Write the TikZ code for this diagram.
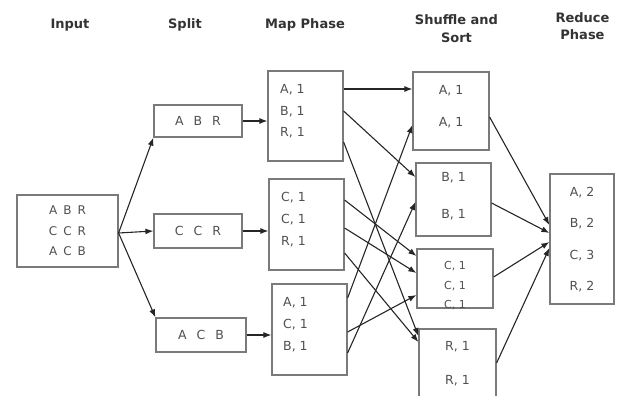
\documentclass[tikz,border=0pt]{standalone}
\usepackage{fontspec}
\setmainfont{DejaVu Sans}
\usetikzlibrary{arrows.meta}
\definecolor{boxgray}{HTML}{7A7A7A}
\definecolor{txtgray}{HTML}{505050}
\definecolor{linegray}{HTML}{262626}

\begin{document}
\begin{tikzpicture}[x=1pt,y=-1pt,
    box/.style={draw=boxgray, line width=1.2pt, inner sep=0pt},
    txt/.style={text=txtgray, font=\fontsize{12.5}{#1}\selectfont, align=left, inner sep=0pt},
    txt/.default=21.5,
    ttl/.style={text=black!80, font=\bfseries\fontsize{13}{#1}\selectfont, align=center, inner sep=0pt},
    ttl/.default=18,
    arr/.style={draw=linegray, line width=1.1pt, -{Latex[length=8pt,width=6pt]}}]
        \useasboundingbox (0,0) rectangle (622,396);

        % Titres
        \node[ttl, anchor=base] (t-in) at (70,28.5) {Input};
        \node[ttl, anchor=base] (t-split) at (185,28.5) {Split};
        \node[ttl, anchor=base] (t-map) at (305,28.5) {Map Phase};
        \node[ttl=18] (t-shuf) at (456.5,29) {Shuffle and\\Sort};
        \node[ttl=16.6] (t-red) at (582.5,26) {Reduce\\Phase};

        % Entree et decoupage
        \node[box, txt=20.5, align=center, minimum width=101pt, minimum height=72pt,
              font=\fontsize{12}{20.5}\selectfont] (in) at (67.5,231)
            {A\hspace{6pt}B\hspace{6pt}R\\C\hspace{6pt}C\hspace{6pt}R\\A\hspace{6pt}C\hspace{6pt}B};
        \node[box, txt, minimum width=88pt, minimum height=32pt] (s1) at (198,121) {A\hspace{10pt}B\hspace{10pt}R};
        \node[box, txt, minimum width=88pt, minimum height=34pt] (s2) at (198,231) {C\hspace{10pt}C\hspace{10pt}R};
        \node[box, txt, minimum width=90pt, minimum height=34pt] (s3) at (201,335) {A\hspace{10pt}C\hspace{10pt}B};

        % Map
        \node[box, minimum width=75pt, minimum height=90pt] (m1) at (305.5,116) {};
        \node[box, minimum width=75pt, minimum height=91pt] (m2) at (306.5,224.5) {};
        \node[box, minimum width=75pt, minimum height=91pt] (m3) at (309.5,329.5) {};
        \node[txt=21.5, anchor=west] (m1t) at (280,111.5) {A, 1\\B, 1\\R, 1};
        \node[txt=22, anchor=west] (m2t) at (281,220) {C, 1\\C, 1\\R, 1};
        \node[txt=22, anchor=west] (m3t) at (283,325) {A, 1\\C, 1\\B, 1};

        % Shuffle and sort
        \node[box, minimum width=76pt, minimum height=78pt] (sh1) at (451,111) {};
        \node[box, minimum width=75pt, minimum height=73pt] (sh2) at (453.5,199.5) {};
        \node[box, minimum width=76pt, minimum height=59pt] (sh3) at (455,278.5) {};
        \node[box, minimum width=77pt, minimum height=71pt] (sh4) at (457.5,364.5) {};
        \node[txt=32, align=center] (sh1t) at (451,107) {A, 1\\A, 1};
        \node[txt=37, align=center] (sh2t) at (453.5,196.5) {B, 1\\B, 1};
        \node[txt, align=center, font=\fontsize{11}{19.5}\selectfont] (sh3t) at (455,286) {C, 1\\C, 1\\C, 1};
        \node[txt=34, align=center] (sh4t) at (457.5,364) {R, 1\\R, 1};

        % Reduce
        \node[box, minimum width=64pt, minimum height=130pt] (r) at (582,239) {};
        \node[txt=31.5, align=center] (rt) at (582,239.5) {A, 2\\B, 2\\C, 3\\R, 2};

        % Fleches
        \draw[arr] ([yshift=-2pt]in.east) -- (s1.south west);
        \draw[arr] ([yshift=-2pt]in.east) -- (s2.west);
        \draw[arr] ([yshift=-2pt]in.east) -- (s3.north west);
        \foreach \s/\m in {s1/m1, s2/m2, s3/m3} {
            \draw[arr] (\s.east) -- (\s.east -| \m.west);
        }
        \foreach \a/\ya/\b/\yb in {m1/27/sh1/22, m1/5/sh2/22.5, m1/-26/sh4/28.5,
                                   m2/24.5/sh3/22.5, m2/-3.5/sh3/5.5, m2/-28.5/sh4/22.5,
                                   m3/31.5/sh1/-14, m3/-2.5/sh3/-16.5, m3/-23.5/sh2/-2.5} {
            \draw[arr] ([yshift=\ya pt]\a.east) -- ([yshift=\yb pt]\b.west);
        }
        \foreach \b/\yb/\yr in {sh1/-6/14, sh2/-3.5/6, sh3/1.5/-3, sh4/1.5/-9} {
            \draw[arr] ([yshift=\yb pt]\b.east) -- ([yshift=\yr pt]r.west);
        }
\end{tikzpicture}
\end{document}
